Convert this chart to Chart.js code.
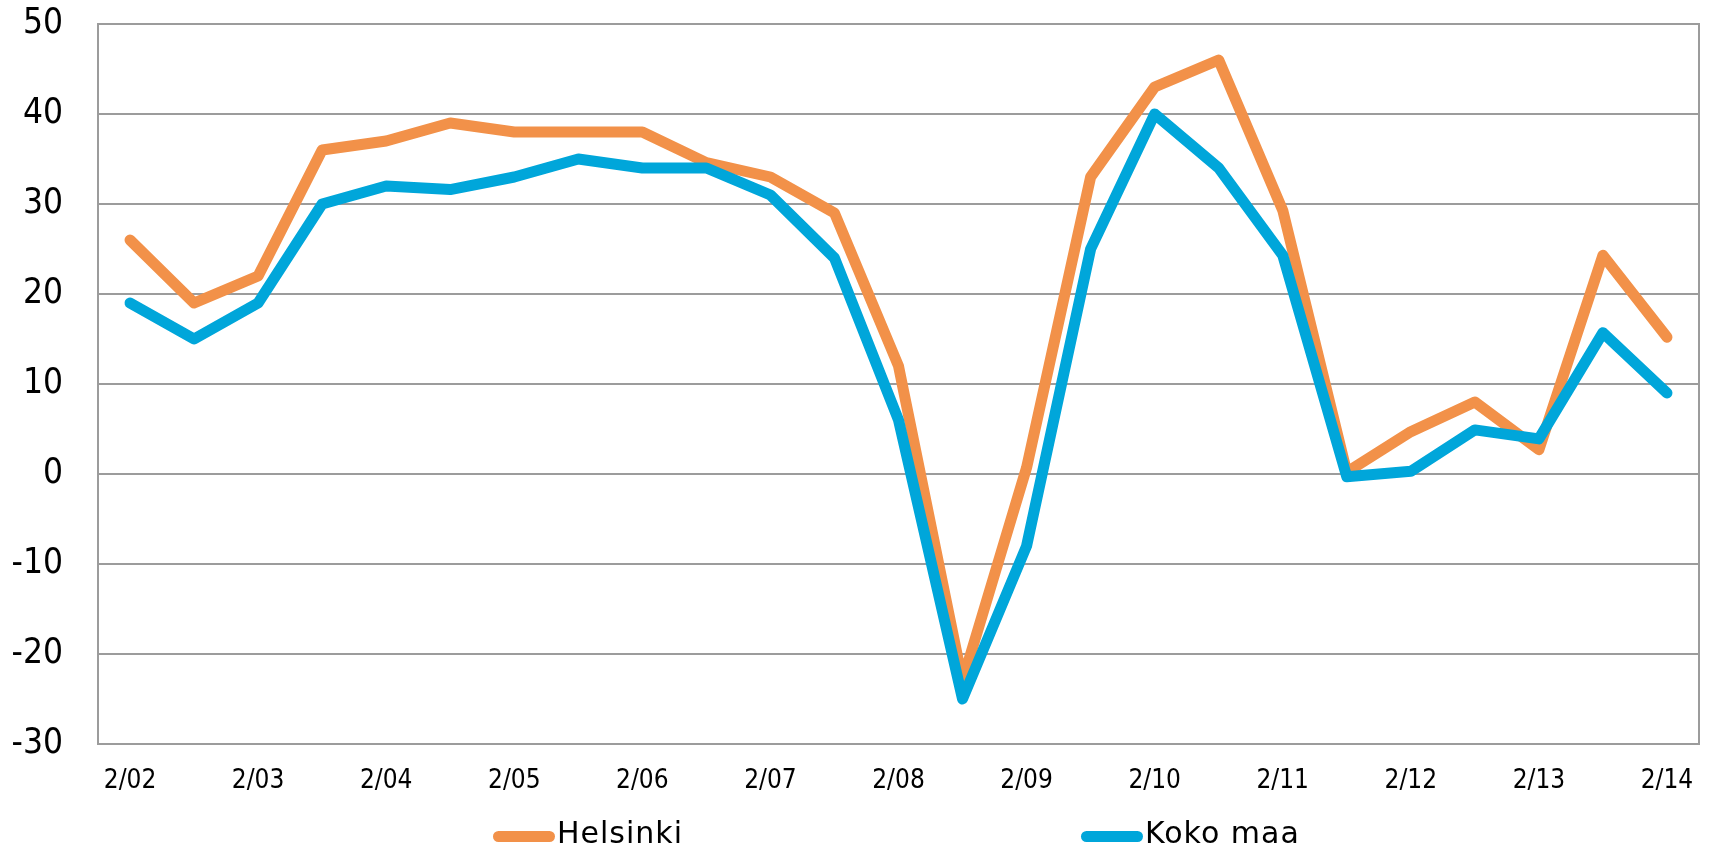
<!DOCTYPE html>
<html>
<head>
<meta charset="utf-8">
<script src="https://cdn.jsdelivr.net/npm/chart.js@4.4.1/dist/chart.umd.min.js"></script>
<style>
    body { margin: 0; background: #ffffff; }
    #wrap { position: relative; width: 1712px; height: 852px; }
    #legend {
        position: absolute; left: 493px; top: 818px;
        display: flex; align-items: center;
        font: 30px "DejaVu Sans", sans-serif; letter-spacing: 1px;
        line-height: 30px; color: #000000;
    }
    #legend .item { display: flex; align-items: center; }
    #legend .item + .item { margin-left: 398px; }
    #legend .swatch { width: 62px; height: 11px; border-radius: 6px; margin-right: 2px; margin-top: 6px; }
</style>
</head>
<body>
<div id="wrap">
    <canvas id="myChart"></canvas>
    <div id="legend"></div>
</div>
<script>
// half-year points, only the February ones get a label
const categories = ["2/02", "8/02", "2/03", "8/03", "2/04", "8/04", "2/05", "8/05",
                    "2/06", "8/06", "2/07", "8/07", "2/08", "8/08", "2/09", "8/09",
                    "2/10", "8/10", "2/11", "8/11", "2/12", "8/12", "2/13", "8/13", "2/14"];
const helsinki = [26, 19, 22, 36, 37, 39, 38, 38, 38, 34.6, 33, 29, 12, -23, 0.7,
                  33, 43, 46, 29.3, 0.2, 4.7, 8, 2.7, 24.3, 15.2];
const kokoMaa = [19, 15, 19, 30, 32, 31.6, 33, 35, 34, 34, 31, 24, 6, -25, -8,
                 25, 40, 34, 24.3, -0.3, 0.3, 4.9, 3.9, 15.7, 9];
const seriesNames = ["Helsinki", "Koko maa"];
const seriesColors = ["#F29149", "#00A6DA"];
const yMin = -30, yMax = 50, yStep = 10;

const gridGray = "#9c9c9c";
const condensed = '"DejaVu Sans Condensed", "DejaVu Sans", sans-serif';

function makeDataset(idx, values) {
    return {
        label: seriesNames[idx],
        data: values,
        borderColor: seriesColors[idx],
        backgroundColor: seriesColors[idx],
        borderWidth: 11,
        borderCapStyle: "round",
        borderJoinStyle: "round",
        pointRadius: 0,
        tension: 0,
        fill: false,
        order: 2 - idx   // Koko maa is painted over Helsinki
    };
}

// html legend, built from the same names and colours
function buildLegend() {
    var legend = document.getElementById("legend");
    seriesNames.forEach((name, i) => {
        var item = document.createElement("div");
        item.className = "item";
        var sw = document.createElement("span");
        sw.className = "swatch";
        sw.style.background = seriesColors[i];
        var txt = document.createElement("span");
        txt.textContent = name;
        item.appendChild(sw);
        item.appendChild(txt);
        legend.appendChild(item);
    });
}

document.addEventListener('DOMContentLoaded', function() {
    buildLegend();
    var ctx = document.getElementById("myChart");
    new Chart(ctx, {
        type: "line",
        data: {
            labels: categories,
            datasets: [makeDataset(0, helsinki), makeDataset(1, kokoMaa)]
        },
        options: {
            responsive: true,
            maintainAspectRatio: false,
            animation: false,
            layout: { padding: { left: 0, right: 13, top: 24, bottom: 0 } },
            plugins: {
                legend: { display: false },
                tooltip: { enabled: false }
            },
            scales: {
                x: {
                    offset: true,
                    grid: { display: false },
                    border: { display: true, color: gridGray, width: 2 },
                    ticks: {
                        autoSkip: false,
                        maxRotation: 0,
                        padding: 14,
                        color: "#000000",
                        font: { family: condensed, size: 26 },
                        callback: function(value, index) {
                            return index % 2 === 0 ? this.getLabelForValue(value) : "";
                        }
                    },
                    afterFit: (scale) => {
                        scale.height = 108;
                        scale.paddingLeft = 0;
                        scale.paddingRight = 0;
                    }
                },
                y: {
                    min: yMin,
                    max: yMax,
                    grid: { color: gridGray, lineWidth: 2, drawTicks: false },
                    border: { display: true, color: gridGray, width: 2 },
                    ticks: {
                        stepSize: yStep,
                        padding: 35,
                        color: "#000000",
                        font: { family: condensed, size: 35 }
                    },
                    // fixed width, and no extra room for the top label
                    afterFit: (scale) => {
                        scale.width = 98;
                        scale.paddingTop = 0;
                        scale.paddingBottom = 0;
                    }
                },
                // only here to draw the right edge of the box
                y2: {
                    position: "right",
                    grid: { display: false },
                    border: { display: true, color: gridGray, width: 2 },
                    ticks: { display: false },
                    afterFit: (scale) => {
                        scale.width = 0;
                        scale.paddingTop = 0;
                        scale.paddingBottom = 0;
                    }
                }
            }
        }
    });
});
</script>
</body>
</html>
